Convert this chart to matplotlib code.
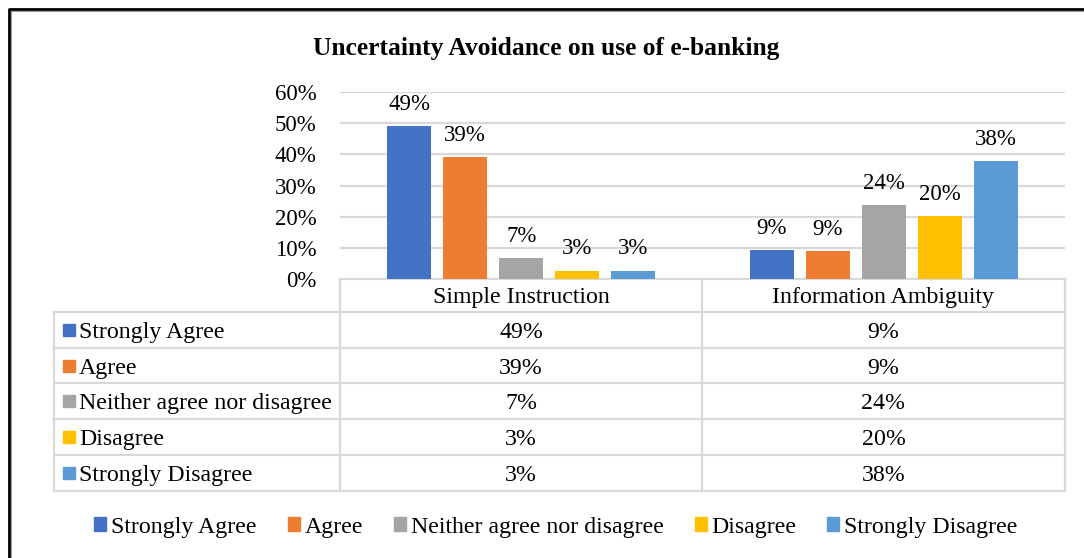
import numpy as np
import matplotlib
matplotlib.use('Agg')
import matplotlib.pyplot as plt
from matplotlib.lines import Line2D
from matplotlib.patches import Rectangle

#-------------------------------------------------------------------------------
# data
#-------------------------------------------------------------------------------
title = 'Uncertainty Avoidance on use of e-banking'
categories = ['Simple Instruction', 'Information Ambiguity']
series = ['Strongly Agree', 'Agree', 'Neither agree nor disagree',
          'Disagree', 'Strongly Disagree']
strongly_agree = [0.492, 0.094]
agree = [0.390, 0.089]
neither = [0.066, 0.237]
disagree = [0.027, 0.202]
strongly_disagree = [0.027, 0.378]
values = [strongly_agree, agree, neither, disagree, strongly_disagree]
colors = ['#4472C4', '#ED7D31', '#A5A5A5', '#FFC000', '#5B9BD5']
yticks = [0, 0.1, 0.2, 0.3, 0.4, 0.5, 0.6]

#-------------------------------------------------------------------------------
W, H = 1084, 558
plt.rcParams['font.family'] = ['Liberation Serif', 'DejaVu Serif']
fig = plt.figure(figsize=(W/100, H/100), dpi=100)
fs = 17.2  # table / legend text

# pixel helpers
x0, x1, ytop, ybot = 340, 1065, 92, 279
ax = fig.add_axes([x0/W, 1 - ybot/H, (x1 - x0)/W, (ybot - ytop)/H])
step = 56/362.5
width = 44/362.5
xc = np.arange(len(categories))
for k, (name, vals, col) in enumerate(zip(series, values, colors)):
    pos = xc + (k - 2)*step
    bars = ax.bar(pos, vals, width, color=col, label=name, zorder=3)
    for b, v in zip(bars, vals):
        ax.annotate('{:.0%}'.format(v), (b.get_x() + b.get_width()/2, v),
                    xytext=(0, 8), textcoords='offset points',
                    ha='center', va='bottom', fontsize=16.5)
ax.set_xlim(-0.5, 1.5)
ax.set_ylim(0, 0.6)
ax.set_yticks(yticks)
ax.set_yticklabels(['{:.0%}'.format(t) for t in yticks], fontsize=16.5)
ax.set_xticks([])
ax.tick_params(axis='y', length=0, pad=17)
for s in ax.spines.values():
    s.set_visible(False)
ax.grid(axis='y', color='#d9d9d9', linewidth=1.6, zorder=0)

#-------------------------------------------------------------------------------
# overlay in pixel coordinates: frame, title, data table, legend
ov = fig.add_axes([0, 0, 1, 1], zorder=-1)
ov.set_xlim(0, W)
ov.set_ylim(H, 0)
ov.axis('off')
ov.add_line(Line2D([9, 9, W + 20], [H + 20, 9, 9], color='black', linewidth=2))
ov.add_line(Line2D([11, 11, W + 20], [H + 20, 11, 11], color='#999999', linewidth=0.8))
ov.text(546, 55, title, ha='center', va='baseline', fontsize=18.4,
        fontweight='bold')

gc = '#d9d9d9'
lw = 1.6
tl, cm = 54, 702
hdr_top, hdr_bot = 279, 312
row_h = 35.7
rows_bot = hdr_bot + row_h*len(series)
colx = [x0, cm, x1]
# header cells
ov.add_line(Line2D([x0, x1], [hdr_top, hdr_top], color=gc, lw=lw))
for xx in colx:
    ov.add_line(Line2D([xx, xx], [hdr_top, rows_bot], color=gc, lw=lw))
ov.add_line(Line2D([tl, tl], [hdr_bot, rows_bot], color=gc, lw=lw))
for i in range(len(series) + 1):
    yy = hdr_bot + i*row_h
    ov.add_line(Line2D([tl, x1], [yy, yy], color=gc, lw=lw))
for j, cat in enumerate(categories):
    ov.text((colx[j] + colx[j+1])/2, (hdr_top + hdr_bot)/2 + 8, cat,
            ha='center', va='baseline', fontsize=fs)
for i, (name, vals, col) in enumerate(zip(series, values, colors)):
    yc = hdr_bot + (i + 0.5)*row_h
    ov.add_patch(Rectangle((63, yc - 6), 12, 12, color=col))
    ov.text(79, yc + 8, name, ha='left', va='baseline', fontsize=fs)
    for j, v in enumerate(vals):
        ov.text((colx[j] + colx[j+1])/2, yc + 8, '{:.0%}'.format(v),
                ha='center', va='baseline', fontsize=fs)

handles = [Rectangle((0, 0), 1, 1, color=c) for c in colors]
fig.legend(handles, series, loc='center', bbox_to_anchor=(556/W, 1 - 527/H),
           ncol=5, frameon=False, fontsize=fs, handlelength=0.5,
           handleheight=0.5, handletextpad=0.2, columnspacing=1.3)

fig.savefig('out.png', dpi=100)
